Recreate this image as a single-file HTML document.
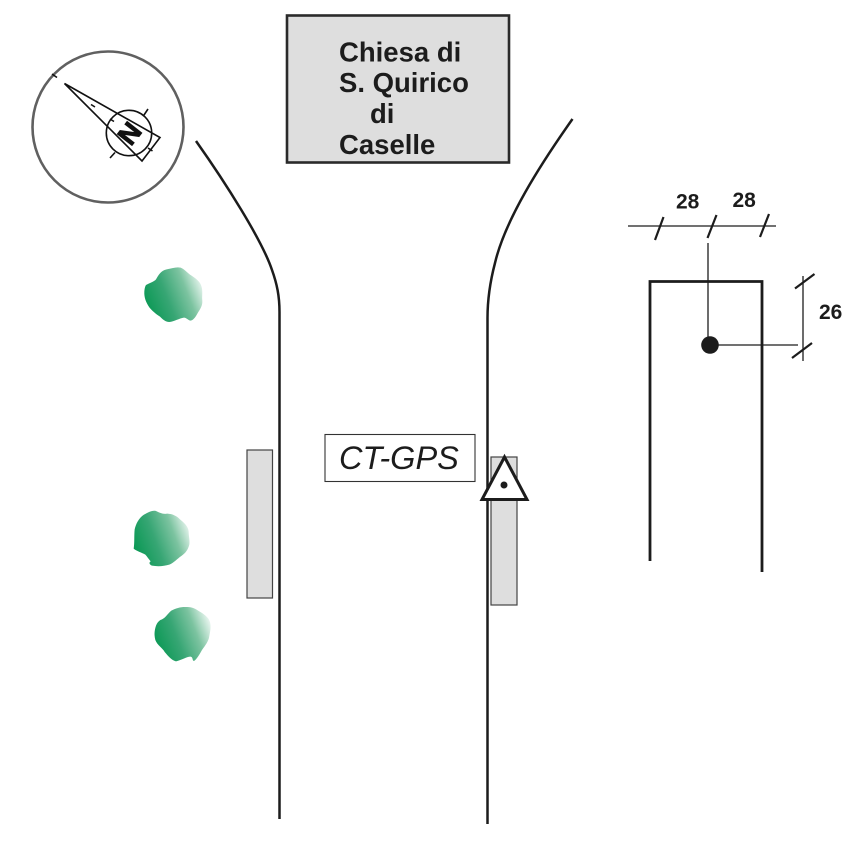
<!DOCTYPE html>
<html>
<head>
<meta charset="utf-8">
<style>
html,body{margin:0;padding:0;background:#fff;width:866px;height:866px;overflow:hidden}
svg{display:block}
text{font-family:"Liberation Sans",sans-serif}
</style>
</head>
<body>
<svg width="866" height="866" viewBox="0 0 866 866" xmlns="http://www.w3.org/2000/svg">
<defs>
<linearGradient id="g" x1="0.05" y1="0.65" x2="1" y2="0.3">
<stop offset="0" stop-color="#0f9a58"/>
<stop offset="0.35" stop-color="#37a674"/>
<stop offset="0.7" stop-color="#7cc3a0"/>
<stop offset="1" stop-color="#e8f5ef"/>
</linearGradient>
</defs>

<!-- compass -->
<circle cx="108" cy="127" r="75.5" fill="#fff" stroke="#606060" stroke-width="2.6"/>
<circle cx="129" cy="133" r="22.7" fill="none" stroke="#111" stroke-width="1.6"/>
<path d="M64.5 83.5L160 137.5L142 161Z" fill="none" stroke="#111" stroke-width="1.6"/>
<g stroke="#111" stroke-width="1.6" fill="none">
<path d="M52 74L57 77.5M91 104.5L95 107M110 158L115 152.5M144 115L148 109M110 119L114 121.5M148 148L152.5 151"/>
</g>
<text x="129" y="133" transform="rotate(-52 129 133)" text-anchor="middle" dy="10" font-size="27" font-weight="bold" fill="#111" stroke="#111" stroke-width="1">N</text>

<!-- church -->
<rect x="287" y="15.5" width="222" height="147" fill="#dedede" stroke="#2a2a2a" stroke-width="2.6"/>
<g font-size="27.5" font-weight="bold" fill="#1c1c1c">
<text x="339" y="61.5">Chiesa di</text>
<text x="339" y="92">S. Quirico</text>
<text x="370" y="123">di</text>
<text x="339" y="154">Caselle</text>
</g>

<!-- roads -->
<path d="M196 141C225 182 262 240 272 270C277 284 279.5 296 279.5 312L279.5 819" fill="none" stroke="#1c1c1c" stroke-width="2.5"/>
<path d="M572.5 119C540 165 505 220 495 263C490 282 487.5 300 487.5 318L487.5 824" fill="none" stroke="#1c1c1c" stroke-width="2.5"/>

<!-- gray rects -->
<rect x="247" y="450" width="25.5" height="148" fill="#dedede" stroke="#444" stroke-width="1.2"/>
<rect x="491" y="457" width="26" height="148" fill="#dedede" stroke="#444" stroke-width="1.2"/>

<!-- label -->
<rect x="325" y="434.5" width="150" height="47" fill="#fff" stroke="#333" stroke-width="1.1"/>
<text x="339" y="469" font-size="32.5" font-style="italic" fill="#1c1c1c">CT-GPS</text>

<!-- triangle -->
<path d="M504.5 457L482 499.5L527 499.5Z" fill="#fff" stroke="#1c1c1c" stroke-width="3"/>
<circle cx="504" cy="485" r="3.5" fill="#1c1c1c"/>

<!-- blobs -->
<g transform="translate(120,250) scale(.3333)">
<path d="M78 105C90 98 102 95 108 88C116 75 122 62 140 58C155 55 170 50 182 53C192 57 200 66 210 74C222 82 238 92 243 105C250 122 245 138 247 152C248 165 242 176 235 186C228 198 222 210 212 212C205 212 200 203 192 203C178 205 162 215 148 216C136 216 128 208 120 200C108 192 96 182 88 172C78 158 72 142 73 125C74 115 75 110 78 105Z" fill="url(#g)"/>
</g>
<g transform="translate(120,500) scale(.3333)">
<path d="M44 88C48 72 56 54 72 44C84 38 96 30 108 33C118 38 128 43 142 41C158 42 170 48 180 58C192 68 204 78 206 94C206 108 210 122 208 134C204 150 196 160 184 168C172 176 162 188 148 194C132 199 112 200 96 197C88 193 86 188 92 184C86 178 82 170 76 164C66 158 50 154 41 146C44 128 42 106 44 88Z" fill="url(#g)"/>
</g>
<g transform="translate(120,500) scale(.3333)">
<path d="M104 395C106 378 112 362 126 358C136 354 142 342 154 332C168 324 184 320 200 321C215 320 226 326 238 334C252 342 266 352 270 366C274 382 270 396 268 408C266 424 256 436 246 450C238 464 230 478 222 483C216 482 220 472 212 470C200 470 186 480 168 484C154 480 146 470 134 456C128 444 112 436 106 420C104 412 103 404 104 395Z" fill="url(#g)"/>
</g>

<!-- dimension diagram -->
<g fill="none" stroke="#1c1c1c">
<path d="M628 226H776" stroke-width="1.3"/>
<path d="M663.5 217L655 240M716.5 215L707.500 238M769 214L760 237" stroke-width="2.2"/>
<path d="M708 243V345" stroke-width="1.3"/>
<path d="M650 561V281.5H762V572" stroke-width="2.8"/>
<path d="M710 345H798" stroke-width="1.3"/>
<path d="M803 276V361" stroke-width="1.3"/>
<path d="M814.5 274L795 288.5M812 343L792 358" stroke-width="2.2"/>
</g>
<circle cx="710" cy="345" r="8.8" fill="#1c1c1c"/>
<g font-size="21" font-weight="bold" fill="#1c1c1c">
<text x="676" y="208.5">28</text>
<text x="732.5" y="207">28</text>
<text x="819" y="319">26</text>
</g>
</svg>
</body>
</html>
